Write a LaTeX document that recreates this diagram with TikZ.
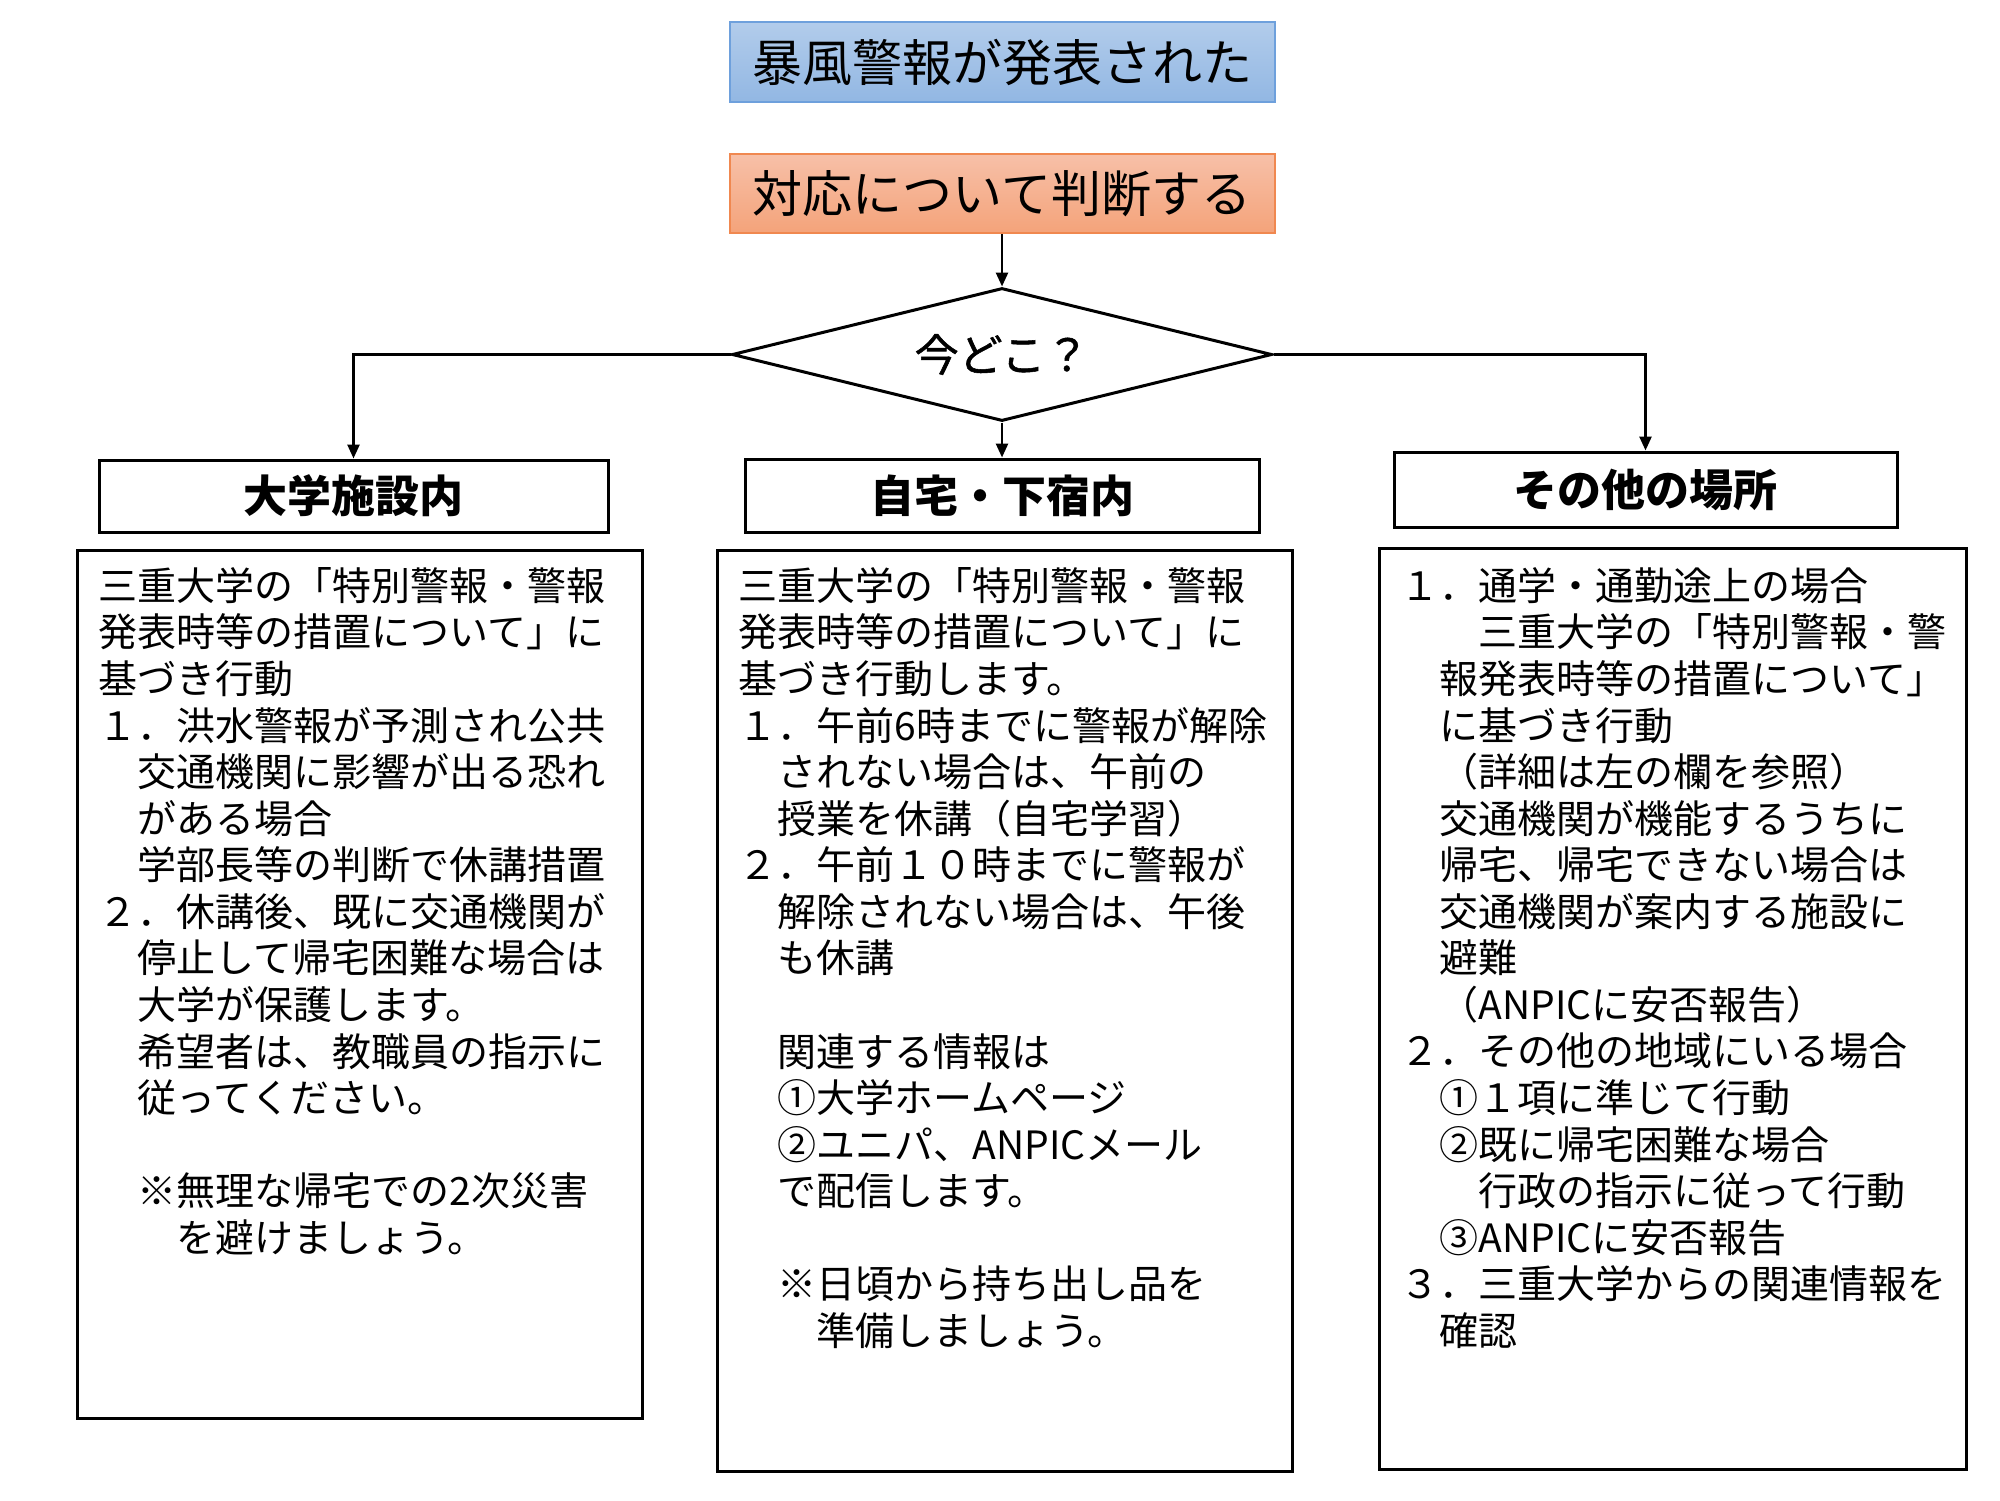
\documentclass[tikz,border=0pt]{standalone}
\usepackage{fontspec}
\setmainfont{Noto Sans CJK JP}
\newfontfamily\heavyjp[FakeBold=1.2]{Noto Sans CJK JP}
\usetikzlibrary{shapes.geometric,arrows.meta}
\definecolor{bluetop}{RGB}{178,204,235}
\definecolor{bluebot}{RGB}{146,183,227}
\definecolor{blueedge}{RGB}{110,160,220}
\definecolor{orgtop}{RGB}{247,192,168}
\definecolor{orgbot}{RGB}{244,163,122}
\definecolor{orgedge}{RGB}{240,136,80}
\begin{document}
\begin{tikzpicture}[x=0.5pt,y=-0.5pt,
  topbox/.style={rectangle, line width=1pt, inner sep=0pt, font=\fontsize{25pt}{30pt}\selectfont},
  bluebox/.style={topbox, draw=blueedge, top color=bluetop, bottom color=bluebot},
  orangebox/.style={topbox, draw=orgedge, top color=orgtop, bottom color=orgbot},
  decision/.style={diamond, draw, line width=1.5pt, inner sep=0pt, aspect=4.06, minimum width=270pt, minimum height=66.5pt, font=\heavyjp\fontsize{22pt}{26pt}\selectfont},
  header/.style={rectangle, draw, line width=1.5pt, inner sep=0pt, font=\fontsize{22pt}{26pt}\selectfont\bfseries},
  panel/.style={rectangle, draw, line width=1.5pt, inner sep=0pt},
  body/.style={anchor=north west, inner sep=0pt, align=left, font=\fontsize{19.5pt}{23.28pt}\selectfont},
  arr/.style={line width=1.3pt, -{Triangle[width=6pt,length=7pt]}}
]
\useasboundingbox (0,0) rectangle (2000,1500);

\node[bluebox, minimum width=272.5pt, minimum height=40pt] (title) at (1002,62) {暴風警報が発表された};
\node[orangebox, minimum width=272.5pt, minimum height=39.5pt] (judge) at (1002,193.5) {対応について判断する};
\node[decision] (where) at (1002,354.5) {今どこ？};

\node[header, minimum width=254.5pt, minimum height=36pt] (hL) at (353.5,496) {大学施設内};
\node[header, minimum width=257pt, minimum height=36.5pt] (hM) at (1002,495.5) {自宅・下宿内};
\node[header, minimum width=251.5pt, minimum height=37.5pt] (hR) at (1645.5,489.5) {その他の場所};

\node[panel, minimum width=282.5pt, minimum height=434pt] (pL) at (359.5,984) {};
\node[panel, minimum width=287.5pt, minimum height=460.5pt] (pM) at (1004.5,1010.5) {};
\node[panel, minimum width=293.5pt, minimum height=460.5pt] (pR) at (1672.5,1008.5) {};

\node[body] (tL) at (98,567) {三重大学の「特別警報・警報\\
発表時等の措置について」に\\
基づき行動\\
１．洪水警報が予測され公共\\
　交通機関に影響が出る恐れ\\
　がある場合\\
　学部長等の判断で休講措置\\
２．休講後、既に交通機関が\\
　停止して帰宅困難な場合は\\
　大学が保護します。\\
　希望者は、教職員の指示に\\
　従ってください。\\
　\\
　※無理な帰宅での2次災害\\
　　を避けましょう。};

\node[body] (tM) at (738,567) {三重大学の「特別警報・警報\\
発表時等の措置について」に\\
基づき行動します。\\
１．午前6時までに警報が解除\\
　されない場合は、午前の\\
　授業を休講（自宅学習）\\
２．午前１０時までに警報が\\
　解除されない場合は、午後\\
　も休講\\
　\\
　関連する情報は\\
　①大学ホームページ\\
　②ユニパ、ANPICメール\\
　で配信します。\\
　\\
　※日頃から持ち出し品を\\
　　準備しましょう。};

\node[body] (tR) at (1400,567) {１．通学・通勤途上の場合\\
　　三重大学の「特別警報・警\\
　報発表時等の措置について」\\
　に基づき行動\\
　（詳細は左の欄を参照）\\
　交通機関が機能するうちに\\
　帰宅、帰宅できない場合は\\
　交通機関が案内する施設に\\
　避難\\
　（ANPICに安否報告）\\
２．その他の地域にいる場合\\
　①１項に準じて行動\\
　②既に帰宅困難な場合\\
　　行政の指示に従って行動\\
　③ANPICに安否報告\\
３．三重大学からの関連情報を\\
　確認};

\draw[arr] (judge.south) -- (where.north);
\draw[arr] (where.west) -| (hL.north);
\draw[arr] (where.south) -- (hM.north);
\draw[arr] (where.east) -| (hR.north);
\end{tikzpicture}
\end{document}
